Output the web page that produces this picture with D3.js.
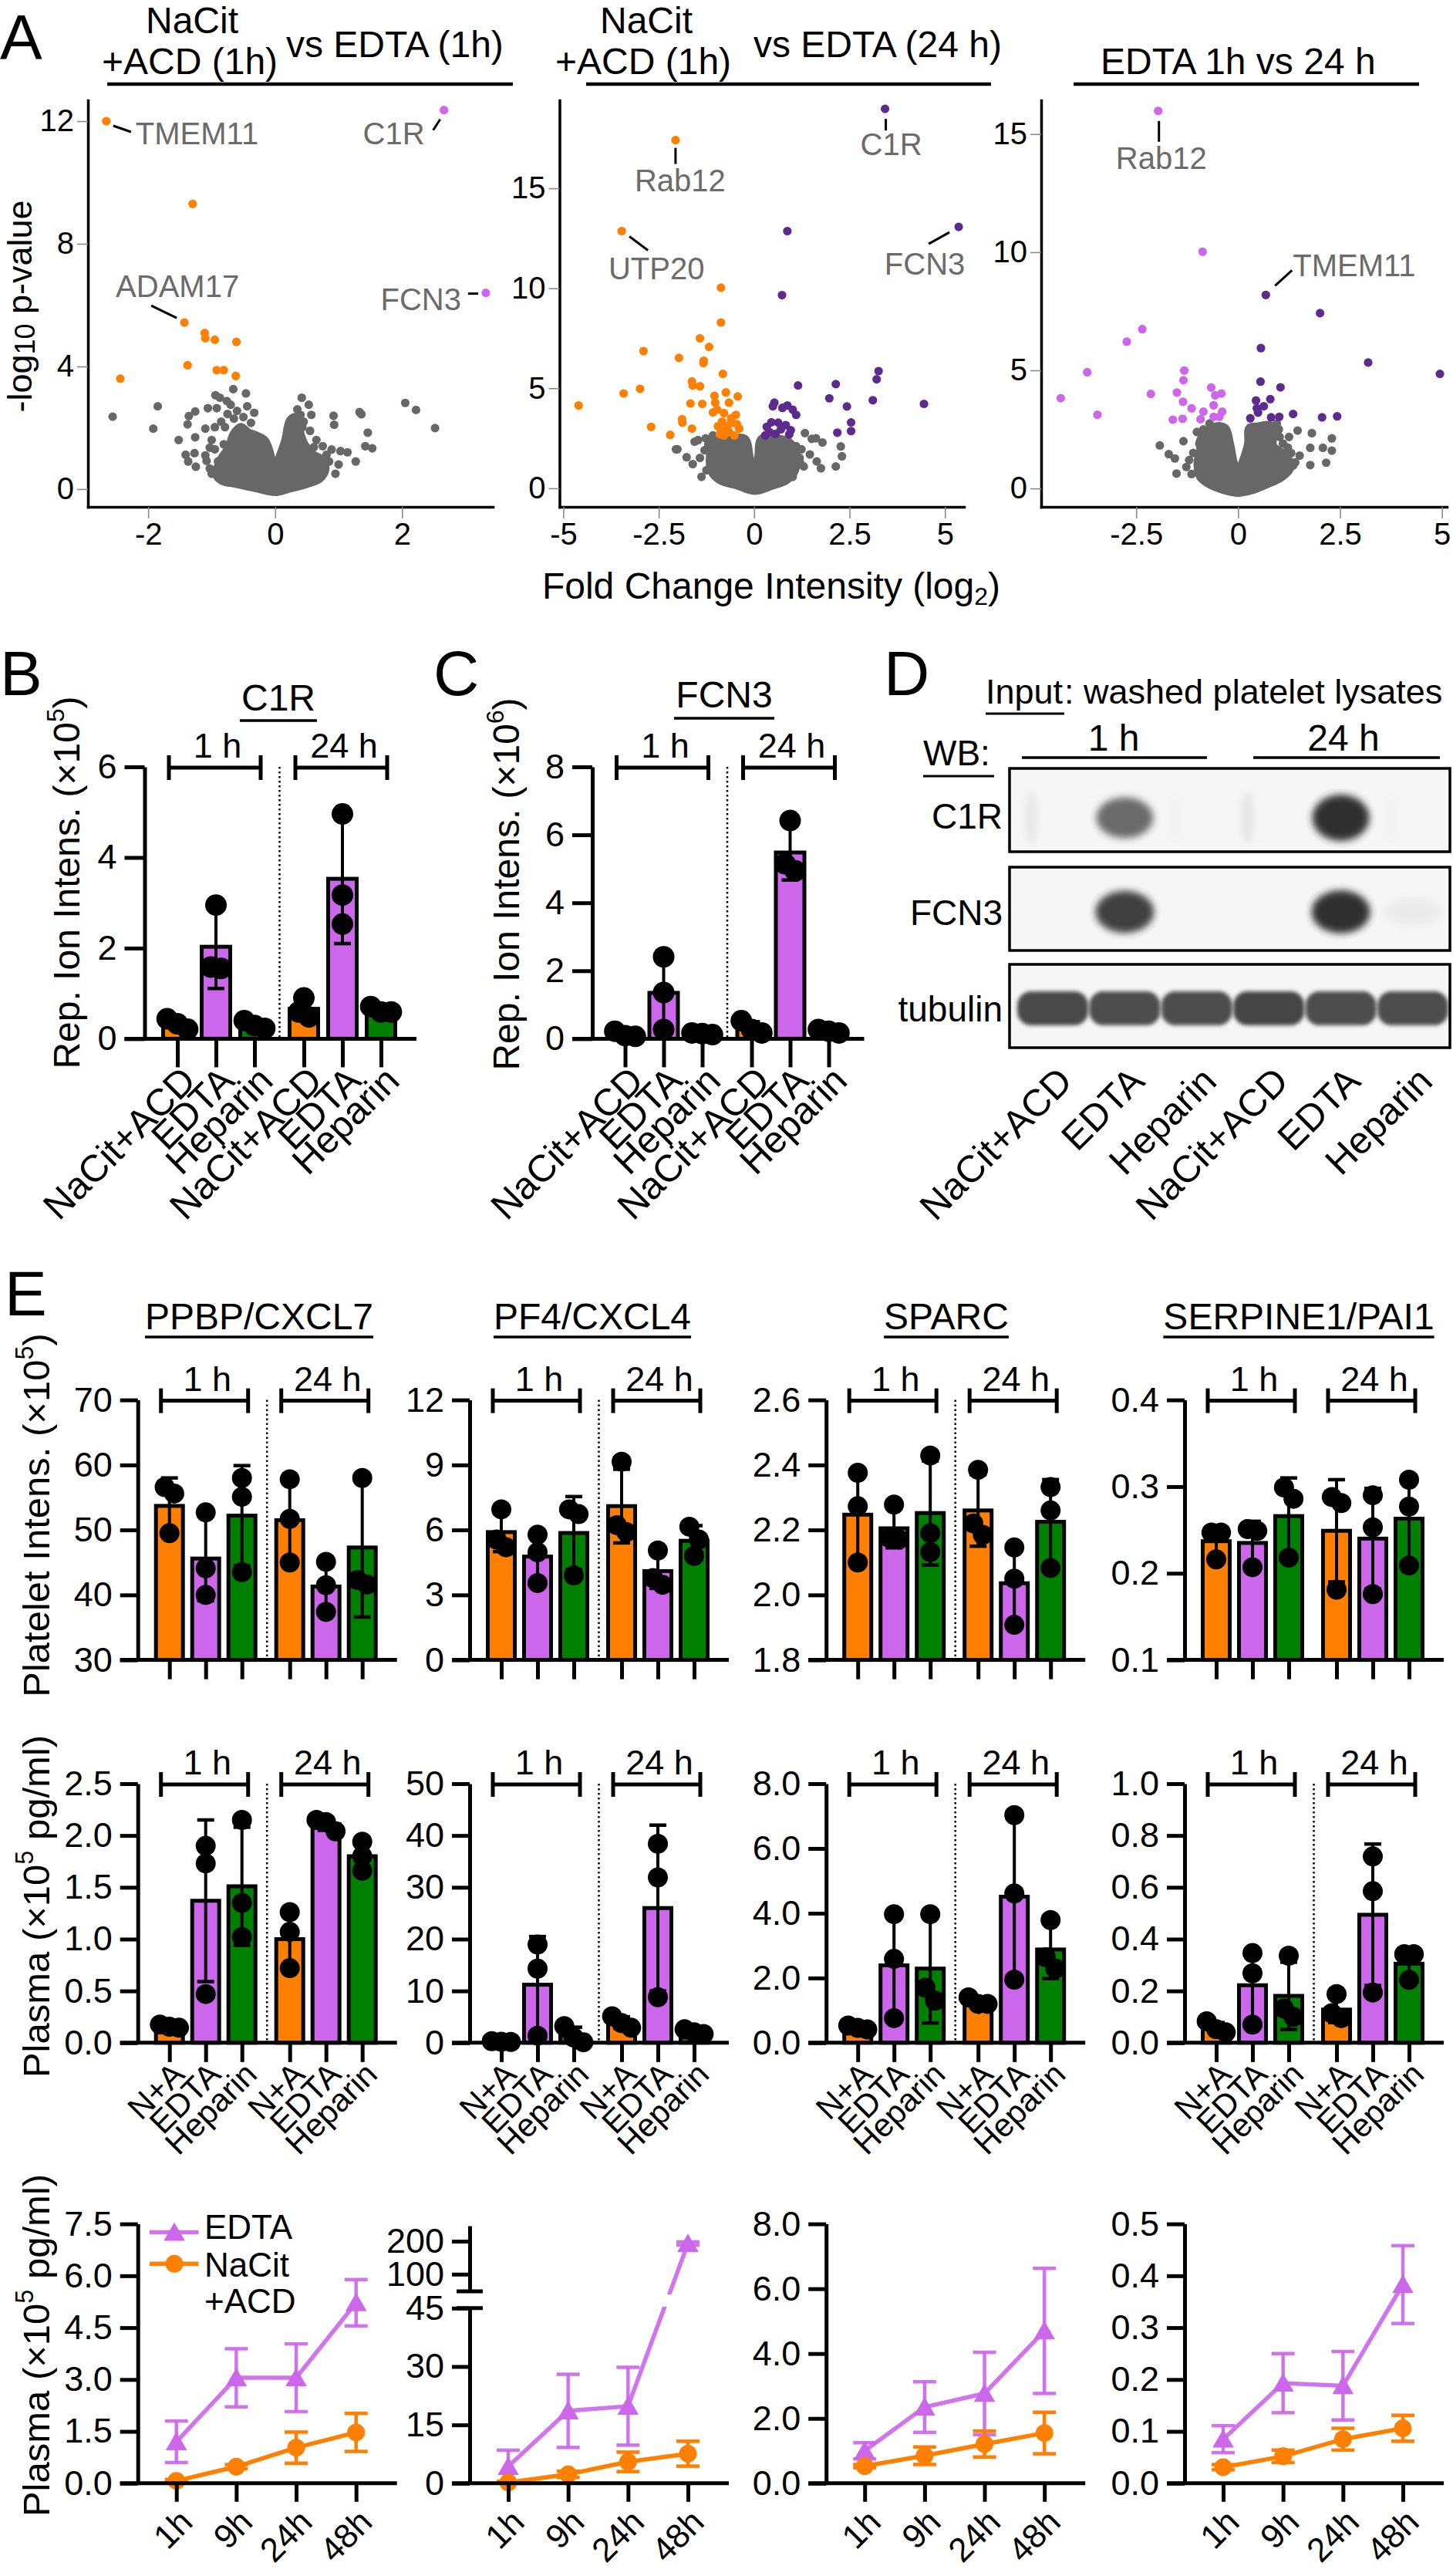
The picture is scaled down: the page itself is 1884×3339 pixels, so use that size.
<!DOCTYPE html>
<html><head><meta charset="utf-8">
<script src="https://cdn.jsdelivr.net/npm/d3@7/dist/d3.min.js"></script>
<style>html,body{margin:0;padding:0;background:#fff;} svg{display:block;}</style>
</head><body>
<svg id="fig" width="1884" height="3339" xmlns="http://www.w3.org/2000/svg"></svg>
<script>
// ======================= DATA =======================
// ---- Panel A: volcano plots, points are [log2 fold change, -log10 p] ----
const v1XTicks=[-2,0,2], v1YTicks=[0,4,8,12];
const v2XTicks=[-5,-2.5,0,2.5,5], v2YTicks=[0,5,10,15];
const v3XTicks=[-2.5,0,2.5,5], v3YTicks=[0,5,10,15];
const volcanoTitles=["vs EDTA (1h)","vs EDTA (24 h)","EDTA 1h vs 24 h"];

const v1Orange=[[-2.66,12.0],[-1.30,9.30],[-1.43,5.43],[-1.11,5.09],[-1.10,4.92],[-0.95,4.87],[-0.61,4.80],[-1.38,4.04],[-0.92,3.88],[-0.81,3.88],[-0.62,3.69],[-2.44,3.60]];
const v1Lilac=[[2.66,12.36],[3.32,6.40]];
const v1Gray=[[-2.56,2.36],[-1.85,2.70],[-1.92,1.97],[-1.52,1.60],[-1.26,1.69],[-1.38,2.11],[-1.36,2.38],[-1.26,2.53],[-1.41,1.12],[-1.27,1.17],[-1.37,0.90],[-1.25,0.73],[-1.08,0.92],[-1.10,1.97],[-1.06,2.64],[-1.03,1.35],[-0.94,3.06],[-0.66,3.26],[-0.46,3.12],[-0.44,2.70],[-0.33,2.49],[-0.38,2.16],[0.42,2.98],[0.53,2.75],[0.57,2.42],[0.40,2.42],[0.92,2.39],[0.93,2.10],[1.33,2.51],[1.36,2.44],[1.46,1.84],[1.42,1.40],[1.53,1.33],[2.05,2.81],[2.22,2.58],[2.52,1.99],[1.27,0.90],[1.14,1.20],[1.03,1.24],[0.89,1.29],[0.81,1.12],[0.61,1.37],[0.43,2.02],[-0.87,2.98],[-0.76,2.87],[-0.92,2.64],[-0.95,2.02],[-0.79,2.02],[-1.03,0.67],[-0.81,1.46],[-0.70,2.75],[-0.60,2.55],[-0.50,2.35],[-0.65,2.30],[-0.85,2.20],[-0.75,2.45],[0.35,2.6],[0.30,2.3],[0.45,2.2],[0.55,1.9],[0.65,1.6],[0.75,1.4],[-1.0,1.6],[-0.95,1.3],[-1.1,1.1],[-0.9,0.9],[0.85,0.9],[1.0,0.8],[0.95,0.5],[-1.0,0.5]];
const v1Core=[[-0.92,0.45],[-0.87,0.90],[-0.73,1.35],[-0.65,1.80],[-0.54,2.02],[-0.43,1.85],[-0.30,1.74],[-0.16,1.57],[-0.05,0.90],[0,0.39],[0.05,0.90],[0.16,1.57],[0.24,2.25],[0.33,2.34],[0.38,1.91],[0.46,1.46],[0.60,1.12],[0.73,0.96],[0.79,0.67],[0.70,0.34],[0.49,0.17],[0.22,0.02],[0,-0.09],[-0.27,0.02],[-0.60,0.17],[-0.84,0.28]];
const v1Genes=[{t:"TMEM11",p:[-2.66,12.0]},{t:"C1R",p:[2.66,12.36]},{t:"ADAM17",p:[-1.43,5.43]},{t:"FCN3",p:[3.32,6.40]}];

const v2Orange=[[-2.06,17.41],[-3.47,12.86],[-0.87,10.03],[-0.87,8.29],[-1.42,7.50],[-1.18,7.07],[-2.90,6.86],[-1.97,6.52],[-1.32,6.38],[-1.33,6.26],[-0.82,5.72],[-1.63,5.34],[-1.61,5.14],[-1.42,5.10],[-0.74,4.79],[-2.99,4.97],[-3.42,4.74],[-4.60,4.14],[-1.04,4.62],[-1.02,4.28],[-0.43,4.59],[-0.66,4.28],[-1.67,4.24],[-1.36,4.22],[-0.97,3.93],[-1.08,3.79],[-0.79,3.76],[-0.48,3.67],[-1.89,3.45],[-1.88,3.28],[-2.70,3.07],[-1.63,2.98],[-2.20,2.67],[-0.84,3.33],[-0.61,3.28],[-0.39,2.98],[-0.88,2.90],[-0.66,2.81],[-0.79,2.64],[-0.52,2.64],[-0.95,3.10],[-0.70,3.05],[-0.45,3.20],[-0.60,3.50],[-0.90,2.70]];
const v2Purple=[[3.43,18.97],[5.36,13.07],[0.87,12.86],[0.73,9.66],[3.26,5.86],[3.21,5.45],[1.15,5.14],[2.14,5.21],[1.97,4.50],[2.43,4.09],[3.11,4.40],[4.45,4.22],[2.54,3.29],[2.54,2.86],[2.18,2.78],[0.53,4.28],[0.49,4.10],[0.74,4.02],[0.87,4.14],[1.01,3.93],[1.10,3.67],[0.33,3.07],[0.40,2.81],[0.63,3.28],[0.83,3.16],[0.96,2.90],[0.29,2.64],[0.56,2.72],[0.92,2.69],[0.45,3.3],[0.70,2.95]];
const v2Gray=[[1.33,2.76],[1.51,2.47],[1.62,2.50],[1.79,2.29],[2.27,2.09],[2.30,1.60],[2.14,1.09],[1.75,1.00],[1.64,1.34],[1.46,1.69],[1.24,1.95],[1.19,1.52],[1.30,1.09],[1.01,0.57],[-2.01,1.95],[-2.05,1.95],[-1.77,1.55],[-1.61,1.21],[-1.47,2.41],[-1.56,2.33],[-1.27,2.50],[-1.08,2.64],[-1.38,0.57],[-1.15,1.43],[-1.42,1.52],[-1.2,2.2],[-1.3,1.9],[1.1,2.1],[1.2,1.3],[-1.25,0.9]];
const v2Core=[[-1.06,2.38],[-0.61,2.47],[-0.25,2.47],[-0.12,1.52],[0,0.40],[0.11,1.52],[0.20,2.47],[0.65,2.47],[0.92,2.29],[1.10,1.69],[1.05,0.83],[0.83,0.40],[0.47,0.14],[0,-0.12],[-0.43,0.14],[-0.88,0.40],[-1.11,0.83],[-1.15,1.69]];
const v2Genes=[{t:"Rab12",p:[-2.06,17.41]},{t:"UTP20",p:[-3.47,12.86]},{t:"C1R",p:[3.43,18.97]},{t:"FCN3",p:[5.36,13.07]}];

const v3Lilac=[[-1.96,15.98],[-0.87,10.02],[-2.35,6.74],[-2.73,6.21],[-3.70,4.92],[-4.35,3.82],[-3.45,3.12],[-2.14,4.00],[-1.32,4.99],[-1.34,4.58],[-1.50,4.06],[-1.35,3.67],[-1.14,3.39],[-1.36,2.95],[-1.60,2.91],[-0.66,4.27],[-0.41,4.02],[-0.56,3.94],[-0.60,3.52],[-0.85,3.25],[-0.39,3.25],[-0.92,2.93],[-0.60,3.03],[-0.46,3.03]];
const v3Purple=[[0.68,8.19],[2.01,7.42],[0.56,5.94],[3.19,5.33],[4.95,4.85],[0.55,4.52],[1.04,4.28],[0.79,3.78],[0.44,3.72],[0.63,3.48],[0.46,3.39],[0.49,3.21],[0.30,2.97],[0.81,3.01],[1.01,3.03],[1.35,3.15],[2.06,3.01],[2.43,3.05]];
const v3Gray=[[-1.92,1.82],[-1.70,1.45],[-1.55,1.27],[-1.51,0.63],[-1.34,2.00],[-1.01,2.39],[-1.27,0.91],[-1.14,0.61],[1.46,2.45],[1.81,2.34],[2.30,2.12],[2.30,1.60],[2.08,1.72],[1.77,1.72],[2.16,1.09],[1.77,0.99],[1.51,1.39],[1.22,1.73],[1.25,2.18],[1.02,2.18],[1.35,0.97],[-0.85,2.5],[-0.95,1.9],[-1.1,1.5],[-1.2,1.2],[1.0,2.5],[1.1,1.9],[1.3,1.5],[1.4,1.1],[0.95,2.75],[-0.7,2.75]];
const v3Core=[[-0.92,2.06],[-0.56,2.61],[-0.32,2.55],[-0.21,1.94],[-0.11,1.09],[0,0.61],[0.11,1.09],[0.25,1.88],[0.28,2.55],[0.49,2.61],[0.77,2.67],[0.88,2.42],[0.85,1.82],[1.20,1.33],[1.27,0.85],[1.06,0.48],[0.70,0.18],[0.35,-0.06],[0,-0.18],[-0.35,-0.06],[-0.70,0.18],[-0.92,0.48],[-0.99,1.09],[-0.92,1.58]];
const v3Genes=[{t:"Rab12",p:[-1.96,15.98]},{t:"TMEM11",p:[0.68,8.19]}];

// ---- Panels B / C ----
const barCats=["NaCit+ACD","EDTA","Heparin","NaCit+ACD","EDTA","Heparin"];
const barCatsShort=["N+A","EDTA","Heparin","N+A","EDTA","Heparin"];
const groupLabels=["1 h","24 h"];
const bTicks=[0,2,4,6], cTicks=[0,2,4,6,8];
const c1rMean=[0.33,2.03,0.31,0.66,3.53,0.63];
const c1rSd=[0.12,0.92,0.09,0.24,1.43,0.07];
const c1rDots=[[0.21,0.44,0.33],[2.95,1.58,1.55],[0.23,0.40,0.29],[0.90,0.48,0.59],[4.96,3.17,2.53],[0.71,0.59,0.59]];
const fcn3Mean=[0.13,1.35,0.15,0.32,5.48,0.22];
const fcn3Sd=[0.08,1.07,0.03,0.18,0.81,0.05];
const fcn3Dots=[[0.09,0.22,0.07],[2.41,1.36,0.27],[0.17,0.15,0.12],[0.27,0.53,0.17],[6.42,4.94,5.15],[0.22,0.27,0.17]];

// ---- Panel D (western blot band intensities, 0-1) ----
const blotLanes=["NaCit+ACD","EDTA","Heparin","NaCit+ACD","EDTA","Heparin"];
const blotRows=["C1R","FCN3","tubulin"];
const blotC1R=[0.10,0.70,0.02,0.12,1.00,0.02];
const blotFCN3=[0.00,0.92,0.00,0.00,1.00,0.05];
const blotTub=[0.88,0.86,0.86,0.90,0.86,0.86];

// ---- Panel E ----
const eTitles=["PPBP/CXCL7","PF4/CXCL4","SPARC","SERPINE1/PAI1"];
// row 1: platelet intensities
const eRow1Ticks=[[30,40,50,60,70],[0,3,6,9,12],[1.8,2.0,2.2,2.4,2.6],[0.1,0.2,0.3,0.4]];
const eRow1Mean=[[53.7,45.6,52.2,51.5,41.3,47.3],[5.9,4.77,5.86,7.1,4.1,5.5],[2.247,2.205,2.252,2.26,2.036,2.225],[0.237,0.235,0.266,0.249,0.24,0.263]];
const eRow1Sd=[[4.3,6.5,7.7,6.3,4.3,10.7],[0.9,1.1,1.68,1.7,0.8,0.7],[0.14,0.06,0.16,0.11,0.12,0.13],[0.018,0.025,0.044,0.059,0.058,0.05]];
const eRow1Dots=[
 [[56.6,55.6,49.5],[52.7,44.1,40.0],[58.0,55.1,43.5],[57.8,51.7,45.0],[45.1,41.5,37.4],[58.0,41.6,42.3]],
 [[6.95,5.56,5.2],[5.78,4.97,3.55],[6.95,6.73,3.9],[9.15,6.22,5.9],[5.05,3.47,3.78],[6.15,5.56,4.8]],
 [[2.376,2.273,2.10],[2.278,2.171,2.176],[2.429,2.19,2.132],[2.385,2.185,2.22],[2.146,1.908,2.05],[2.332,2.26,2.083]],
 [[0.247,0.247,0.216],[0.251,0.249,0.207],[0.299,0.286,0.218],[0.288,0.281,0.181],[0.29,0.253,0.176],[0.308,0.277,0.209]]];
// row 2: plasma bars
const eRow2Ticks=[[0,0.5,1.0,1.5,2.0,2.5],[0,10,20,30,40,50],[0,2,4,6,8],[0,0.2,0.4,0.6,0.8,1.0]];
const eRow2Mean=[[0.15,1.37,1.51,1.0,2.11,1.8],[0.2,11.2,1.4,3.9,26.0,2.1],[0.47,2.39,2.29,1.27,4.51,2.88],[0.058,0.222,0.181,0.128,0.494,0.305]];
const eRow2Sd=[[0.02,0.78,0.57,0.27,0.06,0.14],[0.1,9.3,1.6,1.1,16.0,0.5],[0.06,1.6,1.68,0.12,2.5,0.9],[0.02,0.14,0.13,0.05,0.273,0.05]];
const eRow2Dots=[
 [[0.145,0.176,0.154],[1.90,1.73,0.47],[2.15,1.35,1.02],[1.26,1.07,0.72],[2.04,2.15,2.13],[1.94,1.80,1.66]],
 [[0.2,0.3,0.15],[18.95,14.3,1.36],[3.2,0.1,1.0],[3.8,5.1,2.9],[38.4,31.9,8.8],[2.0,2.6,1.7]],
 [[0.41,0.53,0.46],[3.97,2.59,0.76],[3.97,1.70,1.30],[1.20,1.40,1.20],[7.03,4.61,1.95],[3.79,2.29,2.64]],
 [[0.04,0.083,0.052],[0.346,0.268,0.07],[0.336,0.10,0.132],[0.188,0.095,0.114],[0.719,0.585,0.194],[0.342,0.342,0.243]]];
// row 3: time course
const timePoints=["1h","9h","24h","48h"];
const seriesNames=["EDTA","NaCit","+ACD"];
const eRow3Ticks=[[0,1.5,3.0,4.5,6.0,7.5],[0,15,30,45],[0,2,4,6,8],[0,0.1,0.2,0.3,0.4,0.5]];
const pf4UpperTicks=[100,200];
const edtaMean=[[1.2,3.05,3.05,5.22],[4.3,18.6,19.8,193],[1.0,2.35,2.77,4.7],[0.085,0.193,0.188,0.383]];
const edtaSd=[[0.6,0.84,0.98,0.67],[4.2,9.4,10.0,5.0],[0.25,0.78,1.27,1.93],[0.026,0.057,0.066,0.075]];
const nacitMean=[[0.07,0.48,1.03,1.47],[0.2,2.3,5.5,7.6],[0.53,0.85,1.21,1.55],[0.031,0.052,0.085,0.106]];
const nacitSd=[[0.04,0.06,0.45,0.55],[0.3,0.8,2.5,3.2],[0.05,0.27,0.4,0.64],[0.005,0.012,0.021,0.025]];

// ======================= STYLE / LAYOUT =======================
const FONT='"Liberation Sans", Arial, Helvetica, sans-serif';
const ORANGE="#FF7F00", LILAC="#CC66EA", PURPLE="#5D2A8D", GRAYPT="#676767", GREEN="#008000", LABELGRAY="#6b6b6b";
const svg=d3.select("#fig").attr("font-family",FONT);
const defs=svg.append("defs");

function txt(x,y,s,size,o={}){
  const t=svg.append("text").attr("x",x).attr("y",y).attr("font-size",size)
    .attr("text-anchor",o.anchor||"start").attr("fill",o.fill||"#000").text(s);
  if(o.transform) t.attr("transform",o.transform);
  return t;
}
function hline(x1,x2,y,w){svg.append("line").attr("x1",x1).attr("x2",x2).attr("y1",y).attr("y2",y).attr("stroke","#000").attr("stroke-width",w);}

// panel letters
[["A",0,76],["B",0,901],["C",562,901],["D",1146,901],["E",6,1705]].forEach(d=>txt(d[1],d[2],d[0],82));

// ======================= PANEL A =======================
const VL=[
 {left:114,right:639,top:130,bottom:657,xd:[-2.95,3.43],yd:[-0.58,12.68],xt:v1XTicks,yt:v1YTicks,
  sets:[{p:v1Orange,c:ORANGE},{p:v1Lilac,c:LILAC}],gray:v1Gray,core:v1Core,genes:v1Genes,
  lay:[{dx:38,dy:30,a:"start",l:[9,6,32,14]},{dx:-25,dy:44,a:"end",l:[-14,26,-5,12]},{dx:-89,dy:-33,a:"start",l:[-43,-22,-10,-6]},{dx:-32,dy:22,a:"end",l:[-23,1,-10,1]}]},
 {left:725.5,right:1250,top:130,bottom:657,xd:[-5.10,5.50],yd:[-0.93,19.4],xt:v2XTicks,yt:v2YTicks,
  sets:[{p:v2Orange,c:ORANGE},{p:v2Purple,c:PURPLE}],gray:v2Gray,core:v2Core,genes:v2Genes,
  lay:[{dx:6,dy:66,a:"middle",l:[0,10,0,31]},{dx:45,dy:62,a:"middle",l:[10,7,34,25]},{dx:8,dy:60,a:"middle",l:[1,13,1,28]},{dx:-44,dy:62,a:"middle",l:[-39,22,-12,7]}]},
 {left:1350,right:1876,top:130,bottom:657,xd:[-4.83,5.12],yd:[-0.78,16.43],xt:v3XTicks,yt:v3YTicks,
  sets:[{p:v3Lilac,c:LILAC},{p:v3Purple,c:PURPLE}],gray:v3Gray,core:v3Core,genes:v3Genes,
  lay:[{dx:4,dy:75,a:"middle",l:[1,13,1,40]},{dx:35,dy:-24,a:"start",l:[12,-12,34,-32]}]}
];
VL.forEach(c=>{
  const x=d3.scaleLinear().domain(c.xd).range([c.left,c.right]);
  const y=d3.scaleLinear().domain(c.yd).range([c.bottom,c.top]);
  const g=svg.append("g");
  g.append("path").datum(c.core).attr("d",d3.line().x(d=>x(d[0])).y(d=>y(d[1])).curve(d3.curveCatmullRomClosed))
    .attr("fill",GRAYPT).attr("stroke",GRAYPT).attr("stroke-width",11).attr("stroke-linejoin","round");
  g.append("g").selectAll("circle").data(c.gray).join("circle").attr("cx",d=>x(d[0])).attr("cy",d=>y(d[1])).attr("r",5.6).attr("fill",GRAYPT);
  c.sets.forEach(s=>g.append("g").selectAll("circle").data(s.p).join("circle").attr("cx",d=>x(d[0])).attr("cy",d=>y(d[1])).attr("r",5.6).attr("fill",s.c));
  const ya=d3.axisLeft(y).tickValues(c.yt).tickSize(14).tickSizeOuter(0).tickPadding(4).tickFormat(d=>String(d));
  const xa=d3.axisBottom(x).tickValues(c.xt).tickSize(15).tickSizeOuter(0).tickPadding(6).tickFormat(d=>String(d));
  const gy=g.append("g").attr("transform",`translate(${c.left},0)`).call(ya);
  const gx=g.append("g").attr("transform",`translate(0,${c.bottom})`).call(xa);
  [gx,gy].forEach(a=>{a.attr("font-family",null).attr("font-size",null);
    a.select(".domain").attr("stroke","#000").attr("stroke-width",3.5).attr("stroke-linecap","square");
    a.selectAll(".tick line").attr("stroke","#8a8a8a").attr("stroke-width",1.6);
    a.selectAll(".tick text").attr("font-size",40).attr("fill","#000");});
  c.genes.forEach((gn,i)=>{const L=c.lay[i]; const px=x(gn.p[0]), py=y(gn.p[1]);
    g.append("line").attr("x1",px+L.l[0]).attr("y1",py+L.l[1]).attr("x2",px+L.l[2]).attr("y2",py+L.l[3]).attr("stroke","#000").attr("stroke-width",3);
    g.append("text").attr("x",px+L.dx).attr("y",py+L.dy).attr("text-anchor",L.a).attr("font-size",40).attr("fill",LABELGRAY).text(gn.t);});
});
// titles
txt(249,43,"NaCit",48,{anchor:"middle"}); txt(132,96,"+ACD (1h)",48); txt(371,74,volcanoTitles[0],48); hline(139,665,109,4.5);
txt(838,43,"NaCit",48,{anchor:"middle"}); txt(720,96,"+ACD (1h)",48); txt(977,74,volcanoTitles[1],48); hline(760,1285,109,4.5);
txt(1427,96,volcanoTitles[2],48); hline(1392,1840,109,4.5);
// y label
{const t=svg.append("text").attr("transform","translate(41,397) rotate(-90)").attr("text-anchor","middle").attr("font-size",45);
 t.append("tspan").text("-log"); t.append("tspan").text("10").attr("font-size",36).attr("dy",4); t.append("tspan").text(" p-value").attr("dy",-4);}
{const t=svg.append("text").attr("x",1000).attr("y",776).attr("text-anchor","middle").attr("font-size",48);
 t.append("tspan").text("Fold Change Intensity (log"); t.append("tspan").text("2").attr("font-size",32).attr("dy",8); t.append("tspan").text(")").attr("dy",-8);}

// ======================= BAR CHART HELPER =======================
function rotYLabel(x,y,size,main,sup,tail){
  const t=svg.append("text").attr("transform",`translate(${x},${y}) rotate(-90)`).attr("text-anchor","middle").attr("font-size",size);
  t.append("tspan").text(main); t.append("tspan").text(sup).attr("font-size",size*0.66).attr("dy",-size*0.42);
  t.append("tspan").text(tail).attr("dy",size*0.42);
}
function barChart(c,means,sds,dots,cats,ticks,fmt){
  const g=svg.append("g");
  const y=d3.scaleLinear().domain([ticks[0],ticks[ticks.length-1]]).range([c.bottom,c.top]);
  const idx=d3.range(means.length);
  const slot=d3.scaleLinear().domain([0,1]).range([c.ax+c.off,c.ax+c.off+c.step]);
  const xo=d3.scaleOrdinal().domain(idx).range(idx.map(i=>slot(i+(i>=3?c.gap/c.step:0))));
  const colors=[ORANGE,LILAC,GREEN,ORANGE,LILAC,GREEN];
  g.selectAll("rect").data(means).join("rect").attr("x",(d,i)=>xo(i)-c.bw/2+2.5).attr("width",c.bw-5)
    .attr("y",d=>y(d)).attr("height",d=>c.bottom-y(d)).attr("fill",(d,i)=>colors[i]).attr("stroke","#000").attr("stroke-width",5);
  means.forEach((m,i)=>{const cx=xo(i), hi=m+sds[i], lo=Math.max(m-sds[i],ticks[0]);
    g.append("line").attr("x1",cx).attr("x2",cx).attr("y1",y(lo)).attr("y2",y(hi)).attr("stroke","#000").attr("stroke-width",4);
    g.append("line").attr("x1",cx-11).attr("x2",cx+11).attr("y1",y(hi)).attr("y2",y(hi)).attr("stroke","#000").attr("stroke-width",4.5);
    if(m-sds[i]>ticks[0]) g.append("line").attr("x1",cx-11).attr("x2",cx+11).attr("y1",y(lo)).attr("y2",y(lo)).attr("stroke","#000").attr("stroke-width",4.5);
  });
  dots.forEach((arr,i)=>{const py=arr.map(v=>y(v)); const ord=d3.range(arr.length).sort((a,b)=>py[a]-py[b]);
    const off=new Array(arr.length).fill(0); let cl=[ord[0]];
    const flush=()=>{const n=cl.length; if(n>1) cl.forEach((k,j)=>off[k]=(j-(n-1)/2)*c.r*0.95);};
    for(let j=1;j<ord.length;j++){ if(py[ord[j]]-py[ord[j-1]]<c.r*1.3) cl.push(ord[j]); else {flush(); cl=[ord[j]];} } flush();
    g.append("g").selectAll("circle").data(arr).join("circle").attr("cx",(d,k)=>xo(i)+off[k]).attr("cy",d=>y(d)).attr("r",c.r).attr("fill","#000");
  });
  if(c.sep) g.append("line").attr("x1",c.ax+c.sepOff).attr("x2",c.ax+c.sepOff).attr("y1",c.top).attr("y2",c.bottom)
    .attr("stroke","#000").attr("stroke-width",2.5).attr("stroke-dasharray","2.5,3.5");
  [[0,2],[3,5]].forEach((gr,k)=>{const x1=xo(gr[0])-11, x2=xo(gr[1])+8, yy=c.top+1;
    g.append("line").attr("x1",x1).attr("x2",x2).attr("y1",yy).attr("y2",yy).attr("stroke","#000").attr("stroke-width",5);
    [x1,x2].forEach(xx=>g.append("line").attr("x1",xx).attr("x2",xx).attr("y1",yy-16).attr("y2",yy+16).attr("stroke","#000").attr("stroke-width",5));
    g.append("text").attr("x",xo(gr[0]+1)+2).attr("y",c.top-12).attr("text-anchor","middle").attr("font-size",45).text(groupLabels[k]);
  });
  const ya=d3.axisLeft(y).tickValues(ticks).tickSize(c.tl).tickSizeOuter(0).tickPadding(10).tickFormat(d3.format(fmt));
  const gy=g.append("g").attr("transform",`translate(${c.ax},0)`).call(ya);
  gy.attr("font-family",null).attr("font-size",null);
  gy.select(".domain").attr("stroke","#000").attr("stroke-width",5);
  gy.selectAll(".tick line").attr("stroke","#000").attr("stroke-width",5);
  gy.selectAll(".tick text").attr("font-size",45);
  g.append("line").attr("x1",c.ax-c.tl).attr("x2",c.ax+c.end).attr("y1",c.bottom).attr("y2",c.bottom).attr("stroke","#000").attr("stroke-width",5);
  const xa=d3.axisBottom(xo).tickSize(c.xtl).tickSizeOuter(0).tickFormat(i=>cats?cats[i]:"");
  const gx=g.append("g").attr("transform",`translate(0,${c.bottom})`).call(xa);
  gx.attr("font-family",null).attr("font-size",null);
  gx.select(".domain").remove();
  gx.selectAll(".tick line").attr("stroke","#000").attr("stroke-width",5);
  gx.selectAll(".tick text").attr("font-size",c.cf).attr("text-anchor","end").attr("x",0).attr("y",0).attr("dy","0.35em")
    .attr("transform",`translate(${c.ldx},${c.xtl+c.ldy}) rotate(-45)`);
}

// ======================= PANELS B, C =======================
const bcBase={top:994,bottom:1346.4,off:42.5,step:50,gap:14,bw:42,end:352.5,sepOff:175,tl:26,xtl:37,r:14,sep:true,ldx:14,ldy:8,cf:49};
barChart(Object.assign({ax:187.5},bcBase),c1rMean,c1rSd,c1rDots,barCats,bTicks,"d");
barChart(Object.assign({ax:768},bcBase),fcn3Mean,fcn3Sd,fcn3Dots,barCats,cTicks,"d");
txt(361,921,"C1R",48,{anchor:"middle"}); hline(311,411,934,3.5);
txt(939,917,"FCN3",48,{anchor:"middle"}); hline(874,1004,931,3.5);
rotYLabel(103,1144,48,"Rep. Ion Intens. (\u00d710","5",")");
rotYLabel(673,1146,48,"Rep. Ion Intens. (\u00d710","6",")");

// ======================= PANEL D =======================
{
  defs.append("filter").attr("id","blur5").attr("x","-50%").attr("y","-50%").attr("width","200%").attr("height","200%")
    .append("feGaussianBlur").attr("stdDeviation",5);
  defs.append("filter").attr("id","blur2").attr("x","-30%").attr("y","-50%").attr("width","160%").attr("height","200%")
    .append("feGaussianBlur").attr("stdDeviation",2.5);
  const lane=d3.scalePoint().domain(d3.range(6)).range([1365,1832]);
  const boxes=[{y0:996,y1:1104},{y0:1124,y1:1232},{y0:1250,y1:1358}];
  const g=svg.append("g");
  boxes.forEach(b=>g.append("rect").attr("x",1309).attr("y",b.y0).attr("width",571).attr("height",b.y1-b.y0).attr("fill","#f6f6f6"));
  const op=d3.scaleLinear().domain([0,1]).range([0,0.95]);
  g.append("g").selectAll("ellipse").data(blotC1R).join("ellipse").attr("cx",(d,i)=>d>0.5?lane(i):lane(i)-28).attr("cy",1060)
    .attr("rx",d=>d>0.5?37:8).attr("ry",d=>d>0.5?18+12*d:34).attr("fill","#262626").attr("opacity",d=>d>0.5?op(d):d*0.7).attr("filter","url(#blur5)");
  g.append("g").selectAll("ellipse").data(blotFCN3).join("ellipse").attr("cx",(d,i)=>lane(i)).attr("cy",1182)
    .attr("rx",38).attr("ry",d=>18+10*d).attr("fill","#262626").attr("opacity",d=>op(d)).attr("filter","url(#blur5)");
  g.append("g").selectAll("rect").data(blotTub).join("rect").attr("x",(d,i)=>lane(i)-46).attr("y",1285).attr("width",92).attr("height",44).attr("rx",18)
    .attr("fill","#333").attr("opacity",d=>d).attr("filter","url(#blur2)");
  boxes.forEach(b=>g.append("rect").attr("x",1309).attr("y",b.y0).attr("width",571).attr("height",b.y1-b.y0).attr("fill","none").attr("stroke","#000").attr("stroke-width",3.5));
  txt(1300,1074,blotRows[0],46,{anchor:"end"}); txt(1300,1199,blotRows[1],46,{anchor:"end"}); txt(1300,1324,blotRows[2],46,{anchor:"end"});
  txt(1278,912,"Input",45); txt(1380,912,": washed platelet lysates",45); hline(1278,1380,925,3);
  txt(1197,992,"WB:",46); hline(1197,1289,1006,3);
  txt(1444,973,groupLabels[0],48,{anchor:"middle"}); hline(1325,1565,982,3.5);
  txt(1742,973,groupLabels[1],48,{anchor:"middle"}); hline(1625,1867,982,3.5);
  g.append("g").selectAll("text").data(blotLanes).join("text").attr("text-anchor","end").attr("font-size",49).attr("dy","0.35em")
    .attr("transform",(d,i)=>`translate(${lane(i)+16},${1392}) rotate(-45)`).text(d=>d);
}

// ======================= PANEL E =======================
const eAx=[178.7,609,1071.2,1536];
const eTitleX=[336,768,1227,1684];
const eRowY=[{top:1814.6,bottom:2151.6},{top:2312,bottom:2647.8},{top:2882.6,bottom:3218.8}];
const eBase={off:41,step:47,gap:15,bw:40,end:336,sepOff:167.5,tl:23,xtl:25,r:13,ldx:11,ldy:8,cf:42};
const fmt1=["d","d",".1f",".1f"], fmt2=[".1f","d",".1f",".1f"], fmt3=[".1f","d",".1f",".1f"];
eTitles.forEach((t,i)=>{const tt=txt(eTitleX[i],1723,t,48,{anchor:"middle"}); const w=tt.node().getComputedTextLength(); hline(eTitleX[i]-w/2,eTitleX[i]+w/2,1733,3.5);});
for(let i=0;i<4;i++){
  barChart(Object.assign({ax:eAx[i],top:eRowY[0].top,bottom:eRowY[0].bottom,sep:i<3},eBase),eRow1Mean[i],eRow1Sd[i],eRow1Dots[i],null,eRow1Ticks[i],fmt1[i]);
  barChart(Object.assign({ax:eAx[i],top:eRowY[1].top,bottom:eRowY[1].bottom,sep:true},eBase),eRow2Mean[i],eRow2Sd[i],eRow2Dots[i],barCatsShort,eRow2Ticks[i],fmt2[i]);
}
rotYLabel(64,1964,49,"Platelet Intens. (\u00d710","5",")");
rotYLabel(64,2471,49,"Plasma (\u00d710","5"," pg/ml)");
rotYLabel(64,3040,49,"Plasma (\u00d710","5"," pg/ml)");

// ---- row 3 line charts ----
function lineChart(i){
  const ax=eAx[i], top=eRowY[2].top, bottom=eRowY[2].bottom;
  const g=svg.append("g");
  const x=d3.scalePoint().domain(timePoints).range([ax+50,ax+283]);
  let ymap, yAxes=[];
  if(i===1){
    const yLow=d3.scaleLinear().domain([0,45]).range([bottom,2991.8]);
    const yHigh=d3.scaleLinear().domain([48,247]).range([2970,2885]);
    ymap=v=>v<=45?yLow(v):yHigh(v);
    yAxes=[{s:yLow,t:eRow3Ticks[1]},{s:yHigh,t:pf4UpperTicks}];
    const cp=defs.append("clipPath").attr("id","brk");
    cp.append("rect").attr("x",0).attr("y",2700).attr("width",1884).attr("height",2974-2700);
    cp.append("rect").attr("x",0).attr("y",2990).attr("width",1884).attr("height",400);
  } else {
    const t=eRow3Ticks[i]; const y=d3.scaleLinear().domain([t[0],t[t.length-1]]).range([bottom,top]);
    ymap=y; yAxes=[{s:y,t:t}];
  }
  const series=[{m:edtaMean[i],s:edtaSd[i],c:LILAC,tri:true},{m:nacitMean[i],s:nacitSd[i],c:ORANGE,tri:false}];
  series.forEach(S=>{
    const sg=g.append("g");
    const o=S.tri?0.9:1;
    S.m.forEach((m,k)=>{const cx=x(timePoints[k]); const lo=Math.max(m-S.s[k],0), hi=m+S.s[k];
      sg.append("line").attr("x1",cx).attr("x2",cx).attr("y1",ymap(lo)).attr("y2",ymap(hi)).attr("stroke",S.c).attr("stroke-width",4.5).attr("opacity",o);
      [lo,hi].forEach(v=>{ if(v===0) return; sg.append("line").attr("x1",cx-15).attr("x2",cx+15).attr("y1",ymap(v)).attr("y2",ymap(v)).attr("stroke",S.c).attr("stroke-width",4.5).attr("opacity",o);});
    });
    const path=sg.append("path").datum(S.m).attr("d",d3.line().x((d,k)=>x(timePoints[k])).y(d=>ymap(d)))
      .attr("fill","none").attr("stroke",S.c).attr("stroke-width",5.5).attr("opacity",o);
    if(i===1) path.attr("clip-path","url(#brk)");
    if(S.tri) sg.selectAll("path.m").data(S.m).join("path").attr("class","m").attr("d",d3.symbol(d3.symbolTriangle,330))
      .attr("transform",(d,k)=>`translate(${x(timePoints[k])},${ymap(d)+3})`).attr("fill",S.c);
    else sg.selectAll("circle").data(S.m).join("circle").attr("cx",(d,k)=>x(timePoints[k])).attr("cy",d=>ymap(d)).attr("r",11.5).attr("fill",S.c);
  });
  yAxes.forEach(A=>{
    const ya=d3.axisLeft(A.s).tickValues(A.t).tickSize(23).tickSizeOuter(0).tickPadding(10).tickFormat(d3.format(fmt3[i]));
    const gy=g.append("g").attr("transform",`translate(${ax},0)`).call(ya);
    gy.attr("font-family",null).attr("font-size",null);
    gy.select(".domain").attr("stroke","#000").attr("stroke-width",5);
    gy.selectAll(".tick line").attr("stroke","#000").attr("stroke-width",5);
    gy.selectAll(".tick text").attr("font-size",45);
  });
  if(i===1){ [2970,2991.8].forEach(yy=>g.append("line").attr("x1",ax-17).attr("x2",ax+17).attr("y1",yy).attr("y2",yy).attr("stroke","#000").attr("stroke-width",5)); }
  g.append("line").attr("x1",ax-23).attr("x2",ax+336).attr("y1",bottom).attr("y2",bottom).attr("stroke","#000").attr("stroke-width",5);
  const xa=d3.axisBottom(x).tickSize(24).tickSizeOuter(0);
  const gx=g.append("g").attr("transform",`translate(0,${bottom})`).call(xa);
  gx.attr("font-family",null).attr("font-size",null);
  gx.select(".domain").remove();
  gx.selectAll(".tick line").attr("stroke","#000").attr("stroke-width",5);
  gx.selectAll(".tick text").attr("font-size",44).attr("text-anchor","end").attr("x",0).attr("y",0).attr("dy","0.35em")
    .attr("transform","translate(12,42) rotate(-45)");
}
for(let i=0;i<4;i++) lineChart(i);
// legend (chart 1)
{
  const g=svg.append("g");
  g.append("line").attr("x1",194).attr("x2",257.5).attr("y1",2893.6).attr("y2",2893.6).attr("stroke",LILAC).attr("stroke-width",5.5).attr("opacity",0.9);
  g.append("path").attr("d",d3.symbol(d3.symbolTriangle,330)).attr("transform","translate(226,2896.6)").attr("fill",LILAC);
  g.append("line").attr("x1",194).attr("x2",257.5).attr("y1",2934.3).attr("y2",2934.3).attr("stroke",ORANGE).attr("stroke-width",5.5);
  g.append("circle").attr("cx",226).attr("cy",2934.3).attr("r",11.5).attr("fill",ORANGE);
  txt(265,2902,seriesNames[0],44); txt(265,2950.6,seriesNames[1],44); txt(265,2997.5,seriesNames[2],44);
}
</script></body></html>
